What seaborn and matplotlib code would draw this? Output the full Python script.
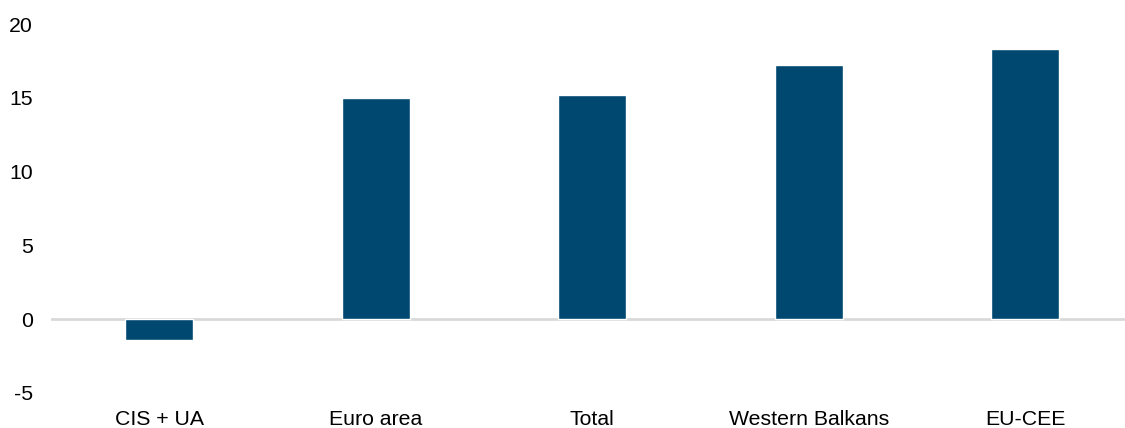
import matplotlib
matplotlib.use("Agg")
import matplotlib.pyplot as plt
import seaborn as sns
import pandas as pd

categories = ["CIS + UA", "Euro area", "Total", "Western Balkans", "EU-CEE"]
values = [-1.4, 15.0, 15.2, 17.2, 18.3]
yticks = [-5, 0, 5, 10, 15, 20]

sns.set_theme(style="white")
plt.rcParams['font.family'] = ['Liberation Sans', 'DejaVu Sans']

df = pd.DataFrame({"category": categories, "value": values})

fig = plt.figure(figsize=(11.25, 4.28), dpi=100)
ax = fig.add_axes([0.0453, 0.0818, 0.9547, 0.8621])
sns.barplot(data=df, x="category", y="value", color="#004870", saturation=1,
            width=0.314, ax=ax)
ax.axhline(0, color="#D9D9D9", lw=2, zorder=0)
ax.set_xlim(-0.5, 4.46)
ax.set_ylim(-5, 20)
ax.set_yticks(yticks)
ax.set_yticklabels([str(t) for t in yticks])
ax.set_xlabel("")
ax.set_ylabel("")
for s in ax.spines.values():
    s.set_visible(False)
ax.tick_params(axis="y", length=0, pad=13, labelsize=15.3, colors="black")
ax.tick_params(axis="x", length=0, pad=12.5, labelsize=15.3, colors="black")
ax.grid(False)
fig.savefig("out.png", dpi=100)
